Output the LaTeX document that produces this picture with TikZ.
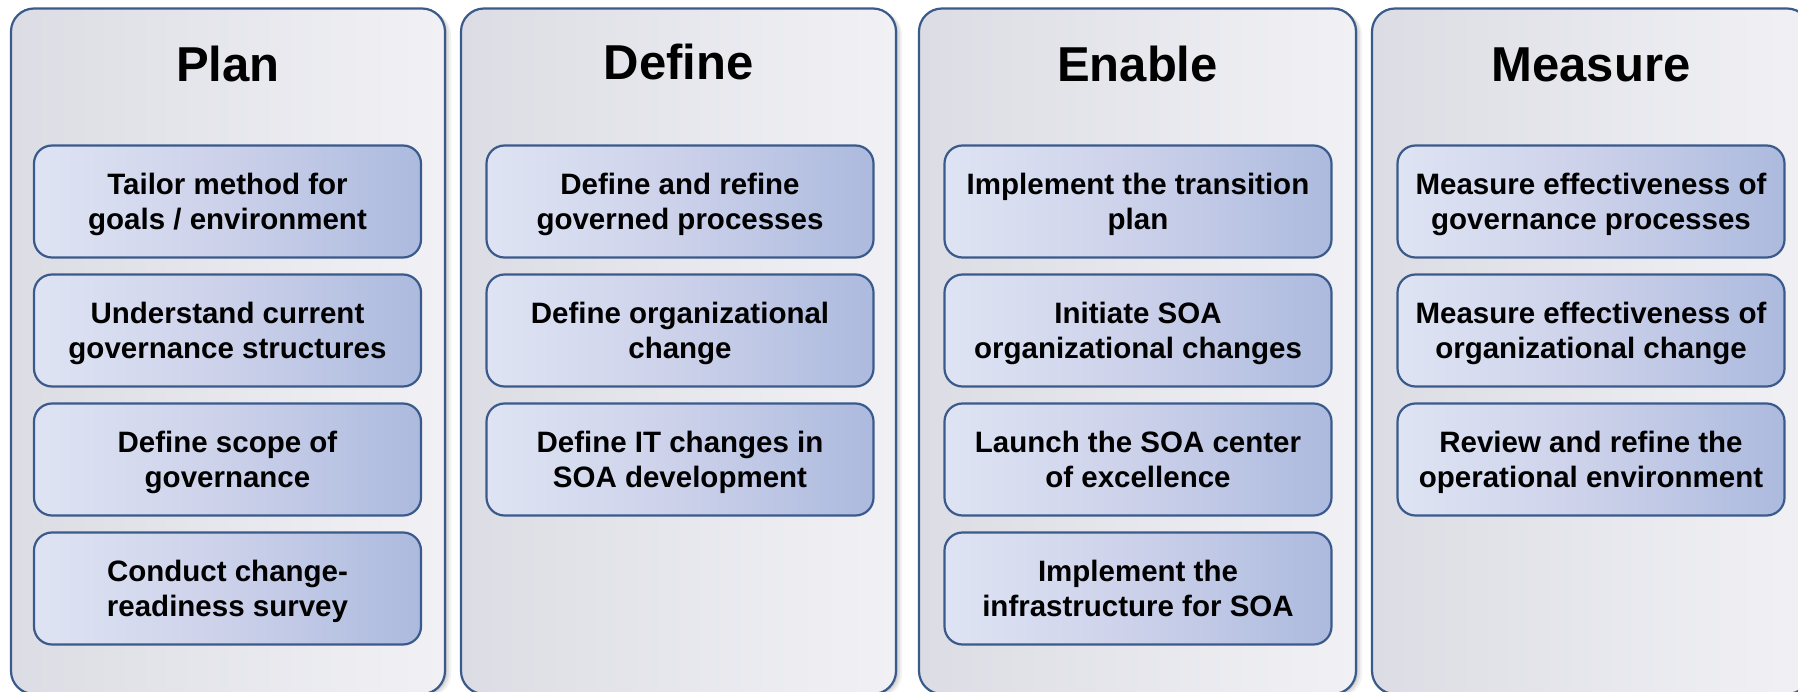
\documentclass[tikz,border=0pt]{standalone}
\usepackage{fontspec}
\setmainfont{Liberation Sans}
\usetikzlibrary{shadows}
\definecolor{edge}{RGB}{59,90,140}
\definecolor{panL}{RGB}{220,221,228}
\definecolor{panR}{RGB}{241,241,245}
\definecolor{boxL}{RGB}{222,228,243}
\definecolor{boxM}{RGB}{204,209,234}
\definecolor{boxR}{RGB}{172,186,222}
\newcommand\boxfont{\fontsize{29.5pt}{35.5pt}\selectfont\bfseries}
\newcommand\titlefont{\fontsize{49pt}{58pt}\selectfont\bfseries}
\newcommand\lnst{\rule[-7pt]{0pt}{35.3pt}}
\tikzset{
  panel/.style={draw=edge, line width=2.2pt, rounded corners=23pt,
    left color=panL, right color=panR, inner sep=0pt,
    general shadow={shadow xshift=2pt, shadow yshift=-1pt, fill=black, opacity=0.10},
    general shadow={shadow xshift=4pt, shadow yshift=-2pt, fill=black, opacity=0.07},
    general shadow={shadow xshift=6pt, shadow yshift=-3pt, fill=black, opacity=0.05}},
  stepbox/.style={draw=edge, line width=2.2pt, rounded corners=18pt,
    left color=boxL, right color=boxR, middle color=boxM,
    minimum width=387pt, minimum height=112pt, inner sep=0pt,
    align=center, font=\boxfont, text=black},
  titletext/.style={font=\titlefont, anchor=base, text=black},
}
\begin{document}
\begin{tikzpicture}[x=1pt,y=-1pt]
\useasboundingbox (0,0) rectangle (1798,692);
\clip (0,0) rectangle (1798,692);
% panels
\node[panel, minimum width=434pt, minimum height=685.5pt] (pplan) at (228,351.25) {};
\node[panel, minimum width=435pt, minimum height=685.5pt] (pdefine) at (678.5,351.25) {};
\node[panel, minimum width=437pt, minimum height=685.5pt] (penable) at (1137.5,351.25) {};
\node[panel, minimum width=438pt, minimum height=685.5pt] (pmeasure) at (1591,351.25) {};
% titles
\node[titletext] (tplan) at (228,81.5) {Plan};
\node[titletext] (tdefine) at (678.5,79.3) {Define};
\node[titletext] (tenable) at (1137.5,81.5) {Enable};
\node[titletext] (tmeasure) at (1591,81.5) {Measure};
% Plan
\node[stepbox] (a1) at (227.5,201.5) {\lnst Tailor method for\\\lnst goals / environment};
\node[stepbox] (a2) at (227.5,330.5) {\lnst Understand current\\\lnst governance structures};
\node[stepbox] (a3) at (227.5,459.5) {\lnst Define scope of\\\lnst governance};
\node[stepbox] (a4) at (227.5,588.5) {\lnst Conduct change-\\\lnst readiness survey};
% Define
\node[stepbox] (b1) at (680,201.5) {\lnst Define and refine\\\lnst governed processes};
\node[stepbox] (b2) at (680,330.5) {\lnst Define organizational\\\lnst change};
\node[stepbox] (b3) at (680,459.5) {\lnst Define IT changes in\\\lnst SOA development};
% Enable
\node[stepbox] (c1) at (1138,201.5) {\lnst Implement the transition\\\lnst plan};
\node[stepbox] (c2) at (1138,330.5) {\lnst Initiate SOA\\\lnst organizational changes};
\node[stepbox] (c3) at (1138,459.5) {\lnst Launch the SOA center\\\lnst of excellence};
\node[stepbox] (c4) at (1138,588.5) {\lnst Implement the\\\lnst infrastructure for SOA};
% Measure
\node[stepbox] (d1) at (1591,201.5) {\lnst Measure effectiveness of\\\lnst governance processes};
\node[stepbox] (d2) at (1591,330.5) {\lnst Measure effectiveness of\\\lnst organizational change};
\node[stepbox] (d3) at (1591,459.5) {\lnst Review and refine the\\\lnst operational environment};
\end{tikzpicture}
\end{document}
